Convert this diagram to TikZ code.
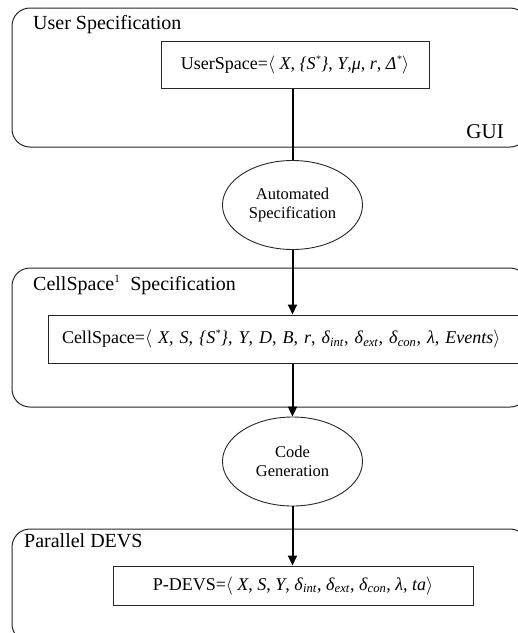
\documentclass[tikz,border=0pt]{standalone}
\usepackage{fix-cm}
\usepackage{fontspec}
\setmainfont{Liberation Serif}
\usetikzlibrary{arrows.meta,shapes.geometric}

% delta with an italic subscript
\newcommand\dl[1]{\textit{δ}\textsubscript{\textit{#1}}}
\newcommand\lang{$\langle$}
\newcommand\rang{$\rangle$}
\newcommand\sstar{\textsuperscript{\fontsize{10}{10}\selectfont *}}

\tikzset{
  panel/.style={draw=black!85, line width=1pt, rounded corners=18pt},
  spec/.style={draw=black!85, line width=1pt, inner sep=0pt, font=\fontsize{18}{21}\selectfont},
  step ellipse/.style={ellipse, draw=black!85, line width=0.9pt, minimum width=140pt, minimum height=89pt,
    inner sep=0pt, align=center, font=\fontsize{16.5}{19}\selectfont},
  title/.style={anchor=base west, inner sep=0pt, font=\fontsize{20}{24}\selectfont},
  flow/.style={line width=2pt},
  flowarrow/.style={flow, -{Triangle[length=10pt,width=9pt]}}
}

\begin{document}
\begin{tikzpicture}[x=1pt,y=-1pt]
\useasboundingbox (0,0) rectangle (518,633);

% the three layer panels
\draw[panel] (12,8) rectangle (528,147);
\draw[panel] (12,268) rectangle (528,407);
\draw[panel] (12,529) rectangle (528,642);

\node[title] (t1) at (33,29) {User Specification};
\node[title] (t2) at (33,290) {CellSpace\textsuperscript{\fontsize{11}{11}\selectfont 1}\ \ Specification};
\node[title] (t3) at (24,547) {Parallel DEVS};
\node[title, font=\fontsize{21}{24}\selectfont, anchor=base east] (gui) at (504,138) {GUI};

% formal structures
\node[spec, minimum width=268pt, minimum height=47pt] (us) at (295,64.5)
  {UserSpace=\lang\ \textit{X}, \textit{\{S\sstar\}}, \textit{Y},\textit{μ}, \textit{r}, \textit{Δ\sstar}\rang};
\node[spec, minimum height=48pt, text width=464pt, align=left, inner xsep=14pt] (cs) at (294,339)
  {CellSpace=\lang\ \textit{X}, \textit{S}, \textit{\{S\sstar\}}, \textit{Y}, \textit{D}, \textit{B}, \textit{r}, \dl{int}, \dl{ext}, \dl{con}, \textit{λ}, \textit{Events}\rang};
\node[spec, minimum width=360pt, minimum height=39pt] (pd) at (293,585.5)
  {P-DEVS=\lang\ \textit{X}, \textit{S}, \textit{Y}, \dl{int}, \dl{ext}, \dl{con}, \textit{λ}, \textit{ta}\rang};

% transformation steps
\node[step ellipse] (auto) at (292.5,205) {Automated\\Specification};
\node[step ellipse] (code) at (292.5,461.5) {Code\\Generation};

% flow between the layers
\draw[flow] (us.south -| auto.north) -- (auto.north);
\draw[flowarrow] (auto.south) -- (cs.north -| auto.south);
\draw[flowarrow] (cs.south -| code.north) -- (code.north);
\draw[flowarrow] (code.south) -- (pd.north -| code.south);
\end{tikzpicture}
\end{document}
